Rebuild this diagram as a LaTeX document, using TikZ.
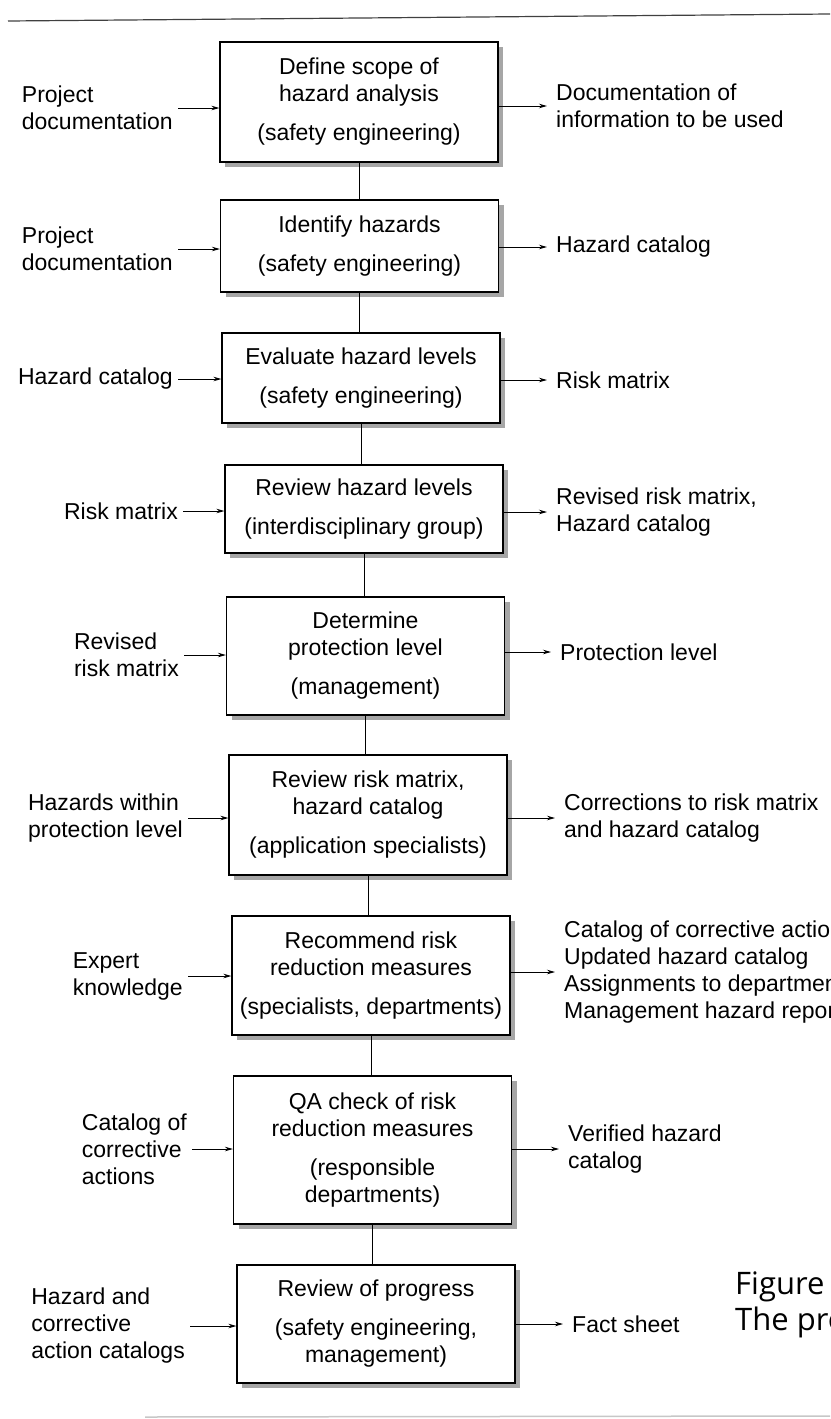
\documentclass[tikz,border=0pt]{standalone}
\usepackage{fontspec}
\setmainfont{Liberation Sans}
\newfontfamily\capfont{Open Sans}
\usetikzlibrary{arrows.meta,shadows}

\begin{document}
\begin{tikzpicture}[
    x=1pt, y=-1pt,
    >={Stealth[length=8pt,width=4.5pt]},
    every node/.style={font=\fontsize{23}{27}\selectfont},
    process/.style={draw, line width=1.2pt, fill=white, align=center,
        inner sep=0pt, minimum width=278pt,
        drop shadow={shadow xshift=5pt, shadow yshift=-5pt, fill=black!35, opacity=1}},
    inlbl/.style={anchor=east, align=left, inner sep=5pt},
    outlbl/.style={anchor=west, align=left, inner sep=9pt},
    flow/.style={line width=0.9pt}
]
\useasboundingbox (0,0) rectangle (830,1419);
\clip (0,0) rectangle (830,1419);

% rules of the page
\draw[line width=1.2pt, black!75] (8,21) -- (830,14);
\draw[line width=1.5pt, black!22] (145,1417) -- (830,1416);

% process steps
\node[process, minimum height=120pt] (s1) at (359,102)
    {Define scope of\\hazard analysis\\[12pt](safety engineering)};
\node[process, minimum height=92pt] (s2) at (359.5,246)
    {Identify hazards\\[12pt](safety engineering)};
\node[process, minimum height=90pt] (s3) at (361,378)
    {Evaluate hazard levels\\[12pt](safety engineering)};
\node[process, minimum height=88pt] (s4) at (364,509)
    {Review hazard levels\\[12pt](interdisciplinary group)};
\node[process, minimum height=118pt] (s5) at (365.5,656)
    {Determine\\protection level\\[12pt](management)};
\node[process, minimum height=120pt] (s6) at (368,815)
    {Review risk matrix,\\hazard catalog\\[12pt](application specialists)};
\node[process, minimum height=119pt] (s7) at (371,975.5)
    {Recommend risk\\reduction measures\\[12pt](specialists, departments)};
\node[process, minimum height=148pt] (s8) at (372.5,1150)
    {QA check of risk\\reduction measures\\[12pt](responsible\\departments)};
\node[process, minimum height=118pt] (s9) at (376,1324)
    {Review of progress\\[12pt](safety engineering,\\management)};

% inputs
\node[inlbl] (i1) at (178,108) {Project\\documentation};
\node[inlbl] (i2) at (178,249) {Project\\documentation};
\node[inlbl] (i3) at (178,379) {Hazard catalog};
\node[inlbl] (i4) at (183,511) {Risk matrix};
\node[inlbl] (i5) at (184,655) {Revised\\risk matrix};
\node[inlbl] (i6) at (188,818) {Hazards within\\protection level};
\node[inlbl] (i7) at (188,976) {Expert\\knowledge};
\node[inlbl] (i8) at (192,1149) {Catalog of\\corrective\\actions};
\node[inlbl] (i9) at (190,1326) {Hazard and\\corrective\\action catalogs};

% outputs
\node[outlbl] (o1) at (547,106) {Documentation of\\information to be used};
\node[outlbl] (o2) at (547,247) {Hazard catalog};
\node[outlbl] (o3) at (547,380) {Risk matrix};
\node[outlbl] (o4) at (547,512) {Revised risk matrix,\\Hazard catalog};
\node[outlbl] (o5) at (551,652) {Protection level};
\node[outlbl] (o6) at (555,818) {Corrections to risk matrix\\and hazard catalog};
\node[outlbl] (o7) at (555,972) {Catalog of corrective actions\\Updated hazard catalog\\Assignments to departments\\Management hazard report};
\node[outlbl] (o8) at (559,1149) {Verified hazard\\catalog};
\node[outlbl] (o9) at (563,1324) {Fact sheet};

\node[font=\capfont\fontsize{31}{36}\selectfont, anchor=west, align=left, inner sep=0pt]
    (cap) at (735,1305) {Figure 1\\The process};

\path[->, flow]
    (i1) edge (i1 -| s1.west)
    (i2) edge (i2 -| s2.west)
    (i3) edge (i3 -| s3.west)
    (i4) edge (i4 -| s4.west)
    (i5) edge (i5 -| s5.west)
    (i6) edge (i6 -| s6.west)
    (i7) edge (i7 -| s7.west)
    (i8) edge (i8 -| s8.west)
    (i9) edge (i9 -| s9.west)
    (o1 -| s1.east) edge (o1)
    (o2 -| s2.east) edge (o2)
    (o3 -| s3.east) edge (o3)
    (o4 -| s4.east) edge (o4)
    (o5 -| s5.east) edge (o5)
    (o6 -| s6.east) edge (o6)
    (o7 -| s7.east) edge (o7)
    (o8 -| s8.east) edge (o8)
    (o9 -| s9.east) edge (o9);

\foreach \a/\b in {s1/s2,s2/s3,s3/s4,s4/s5,s5/s6,s6/s7,s7/s8,s8/s9}
    \draw[flow] (\a.south) -- (\a.south |- \b.north);
\end{tikzpicture}
\end{document}
